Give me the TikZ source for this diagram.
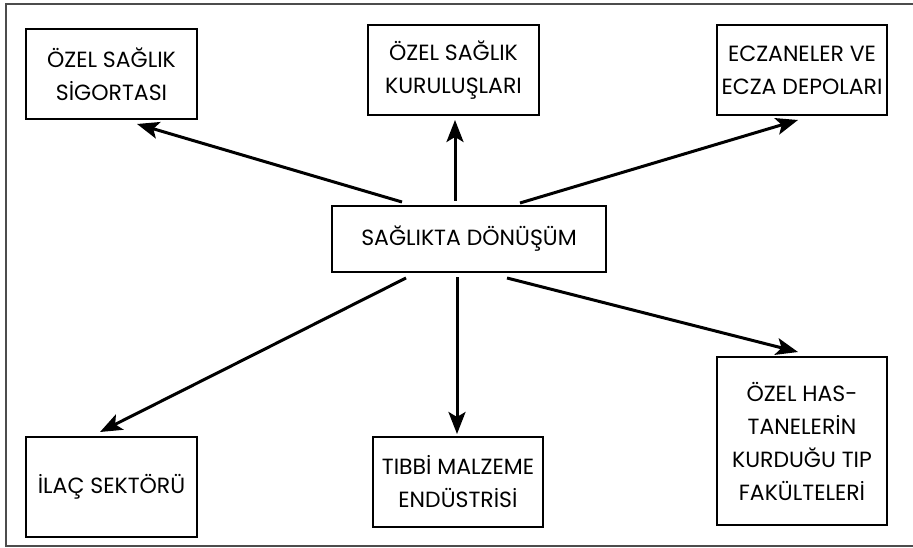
\documentclass[tikz,border=0pt]{standalone}
\usepackage{fontspec}
\setmainfont{Poppins}
\usetikzlibrary{arrows.meta}
\begin{document}
\begin{tikzpicture}[x=1pt,y=-1pt,
  box/.style={draw=black,line width=1.4pt,align=center,inner sep=0pt,
    font=\fontsize{22}{33}\selectfont},
  conn/.style={line width=3pt,-{Stealth[length=22pt,width=17pt,inset=5pt]}},
  frame/.style={draw=black!70,line width=1.6pt}]
\useasboundingbox (0,0) rectangle (913,548);
\draw[frame] (913,4) -- (6,4) -- (6,546) -- (913,546);
\node[box,minimum width=171pt,minimum height=90pt] (b1) at (111.5,74) {ÖZEL SAĞLIK\\SİGORTASI};
\node[box,minimum width=171pt,minimum height=90pt] (b2) at (453.5,70) {ÖZEL SAĞLIK\\KURULUŞLARI};
\node[box,minimum width=170pt,minimum height=90pt] (b3) at (802,70) {ECZANELER VE\\ECZA DEPOLARI};
\node[box,minimum width=274pt,minimum height=66pt,font=\fontsize{22}{26}\selectfont] (c) at (469,239) {SAĞLIKTA DÖNÜŞÜM};
\node[box,minimum width=171pt,minimum height=100pt] (b4) at (111.5,487) {İLAÇ SEKTÖRÜ};
\node[box,minimum width=170pt,minimum height=90pt] (b5) at (458,482) {TIBBİ MALZEME\\ENDÜSTRİSİ};
\node[box,minimum width=170pt,minimum height=168pt] (b6) at (802,441) {ÖZEL HAS-\\TANELERİN\\KURDUĞU TIP\\FAKÜLTELERİ};
\coordinate (s1) at (402,202); \coordinate (t1) at (137,124);
\coordinate (s2) at (455,201); \coordinate (t2) at (455,120);
\coordinate (s3) at (520,203); \coordinate (t3) at (798,120);
\coordinate (s4) at (406,278); \coordinate (t4) at (100,432);
\coordinate (s5) at (457,277); \coordinate (t5) at (457,434);
\coordinate (s6) at (507,278); \coordinate (t6) at (798,352);
\foreach \i in {1,...,6} \draw[conn] (s\i) -- (t\i);
\end{tikzpicture}
\end{document}
